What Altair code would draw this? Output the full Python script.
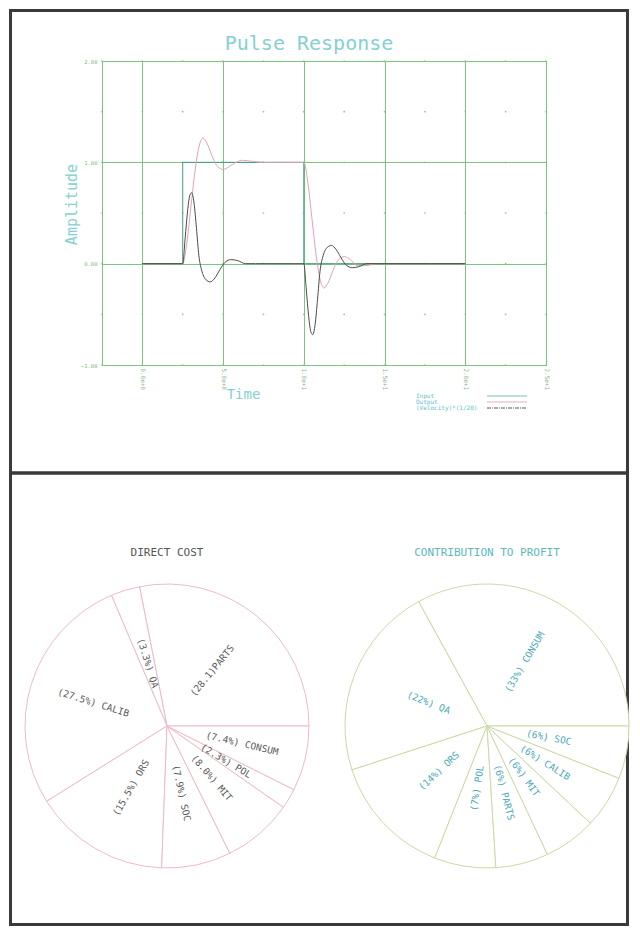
import math
import pandas as pd
import altair as alt

FONT = "DejaVu Sans Mono"
GREEN = "#7ac87a"
CYAN = "#86d0d4"
FRAME = "#3a3a3a"

# ---------------- Pulse response data ----------------
chart_title = "Pulse Response"
x_ticks = [0, 5, 10, 15, 20, 25]
y_ticks = [-1, 0, 1, 2]
x_half = [-2.5, 2.5, 7.5, 12.5, 17.5, 22.5]
y_half = [-1, -0.5, 0, 0.5, 1, 1.5, 2]

input_t = [0, 2.5, 2.5, 10, 10, 20]
input_v = [0, 0, 1, 1, 0, 0]

output_t = [0, 2.5, 2.75, 3.0, 3.25, 3.5, 3.75, 4.0, 4.3, 4.6, 5.0, 5.4, 5.8, 6.2, 6.8, 7.5,
            10.0, 10.25, 10.5, 10.75, 11.0, 11.25, 11.5, 11.8, 12.1, 12.5, 12.9, 13.3, 13.8, 14.5, 20]
output_v = [0, 0, 0.2, 0.55, 0.9, 1.15, 1.24, 1.19, 1.07, 0.97, 0.93, 0.96, 1.0, 1.02, 1.01, 1.0,
            1.0, 0.8, 0.45, 0.1, -0.15, -0.24, -0.19, -0.07, 0.03, 0.07, 0.04, -0.02, -0.02, 0.0, 0]

vel_t = [0, 2.5, 2.65, 2.8, 2.95, 3.05, 3.2, 3.35, 3.5, 3.7, 3.95, 4.2, 4.5, 4.8, 5.1, 5.5, 5.9, 6.4, 7.0,
         10.0, 10.15, 10.3, 10.45, 10.55, 10.7, 10.85, 11.0, 11.2, 11.45, 11.7, 12.0, 12.3, 12.6, 13.0, 13.4, 13.9, 20]
vel_v = [0, 0, 0.25, 0.52, 0.68, 0.70, 0.6, 0.35, 0.08, -0.08, -0.16, -0.18, -0.14, -0.06, 0.01, 0.04, 0.03, 0.0, 0.0,
         0.0, -0.25, -0.52, -0.68, -0.70, -0.6, -0.35, -0.08, 0.08, 0.16, 0.18, 0.14, 0.06, -0.01, -0.04, -0.03, 0.0, 0]

legend_names = ["Input", "Output", "(Velocity)*(1/20)"]

# ---------------- Pie data ----------------
left_names = ["PARTS", "QA", "CALIB", "ORS", "SOC", "MIT", "POL", "CONSUM"]
left_values = [28.1, 3.3, 27.5, 15.5, 7.9, 8.0, 2.3, 7.4]
left_labels = ["(28.1)PARTS", "(3.3%) QA", "(27.5%) CALIB", "(15.5%) ORS",
               "(7.9%) SOC", "(8.0%) MIT", "(2.3%) POL", "(7.4%) CONSUM"]

right_names = ["CONSUM", "QA", "ORS", "POL", "PARTS", "MIT", "CALIB", "SOC"]
right_values = [33, 22, 14, 7, 6, 6, 6, 6]
right_labels = ["(33%) CONSUM", "(22%) QA", "(14%) ORS", "(7%) POL",
                "(6%) PARTS", "(6%) MIT", "(6%) CALIB", "(6%) SOC"]

# ---------------- Top chart ----------------
xs = alt.Scale(domain=[-2.5, 25], nice=False, zero=False)
ys = alt.Scale(domain=[-1, 2], nice=False, zero=False)

x_axis = alt.Axis(values=x_ticks, format=".1e", grid=True, gridColor=GREEN, gridWidth=1,
                  ticks=False, domain=False, labelAngle=90, labelAlign="left",
                  labelBaseline="middle", labelPadding=3, labelFontSize=6, labelFont=FONT,
                  labelColor="#8ab48a", title="Time", titleFont=FONT, titleFontSize=14,
                  titleFontWeight="normal", titleColor=CYAN, titleX=141, titleY=29,
                  titleAlign="center", titleBaseline="middle")
y_axis = alt.Axis(values=y_ticks, format=".2f", grid=True, gridColor=GREEN, gridWidth=1,
                  ticks=False, domain=False, labelPadding=5, labelFontSize=5.5, labelFont=FONT,
                  labelColor="#8ab48a", title="Amplitude", titleFont=FONT, titleFontSize=15,
                  titleFontWeight="normal", titleColor=CYAN, titleX=-31, titleY=143,
                  titleAngle=270, titleAlign="center", titleBaseline="middle")


def enc(chart):
    return chart.encode(x=alt.X("t:Q", scale=xs, axis=x_axis),
                        y=alt.Y("v:Q", scale=ys, axis=y_axis))


dots_df = pd.DataFrame([(x, y) for x in x_half + x_ticks for y in y_half], columns=["t", "v"])
dots = enc(alt.Chart(dots_df).mark_circle(size=3, color=GREEN, opacity=0.9))

in_df = pd.DataFrame({"t": input_t, "v": input_v, "i": range(len(input_t))})
out_df = pd.DataFrame({"t": output_t, "v": output_v, "i": range(len(output_t))})
vel_df = pd.DataFrame({"t": vel_t, "v": vel_v, "i": range(len(vel_t))})

line_in = enc(alt.Chart(in_df).mark_line(color="#3f9a8c", strokeWidth=1)).encode(order="i:Q")
line_out = enc(alt.Chart(out_df).mark_line(color="#e3a2b4", strokeWidth=1,
                                           interpolate="monotone")).encode(order="i:Q")
line_vel = enc(alt.Chart(vel_df).mark_line(color="#4a4a4a", strokeWidth=1,
                                           interpolate="monotone")).encode(order="i:Q")

one = pd.DataFrame({"k": [0]})
title_text = alt.Chart(one).mark_text(align="center", baseline="middle", fontSize=20,
                                      font=FONT, color=CYAN).encode(
    x=alt.value(207), y=alt.value(-17), text=alt.value(chart_title))
leg_text = alt.Chart(one).mark_text(align="left", baseline="top", fontSize=6, lineHeight=6,
                                    font=FONT, color="#5cc0cc").encode(
    x=alt.value(314), y=alt.value(332), text=alt.value(legend_names))
leg_in = alt.Chart(one).mark_rule(color="#7fbdb3", strokeWidth=1).encode(
    x=alt.value(385), x2=alt.value(425), y=alt.value(335))
leg_out = alt.Chart(one).mark_rule(color="#d9b3bd", strokeWidth=1).encode(
    x=alt.value(385), x2=alt.value(425), y=alt.value(341))
leg_vel = alt.Chart(one).mark_rule(color="#555555", strokeWidth=1, strokeDash=[4, 1, 1, 1]).encode(
    x=alt.value(385), x2=alt.value(425), y=alt.value(347))

frame_top = alt.Chart(one).mark_rect(fillOpacity=0, stroke=FRAME, strokeWidth=3).encode(
    x=alt.value(-91.5), x2=alt.value(525.5), y=alt.value(-50.5), y2=alt.value(412))
frame_bot = alt.Chart(one).mark_rect(fillOpacity=0, stroke=FRAME, strokeWidth=3).encode(
    x=alt.value(-91.5), x2=alt.value(525.5), y=alt.value(412), y2=alt.value(863.5))

top = alt.layer(dots, line_in, line_out, line_vel, title_text, leg_text, leg_in, leg_out,
                leg_vel, frame_top, frame_bot).properties(
    width=444, height=304,
    view=alt.ViewBackground(stroke=GREEN, strokeWidth=1),
)

# ---------------- Pies ----------------
theta_scale = alt.Scale(range=[math.pi / 2, math.pi / 2 - 2 * math.pi])


def pie(names, values, labels, line_color, text_color, title, title_color):
    df = pd.DataFrame({"idx": list(range(len(names))), "name": names,
                       "value": values, "label": labels})
    base = alt.Chart(df)
    arcs = base.mark_arc(radius=142, fill="white", stroke=line_color, strokeWidth=1).encode(
        theta=alt.Theta("value:Q", stack=True, scale=theta_scale),
        order=alt.Order("idx:Q"),
    )
    lab = base.transform_window(
        cum="sum(value)", sort=[alt.SortField("idx", order="ascending")], frame=[None, 0]
    ).transform_joinaggregate(total="sum(value)").transform_calculate(
        mid="datum.cum - datum.value / 2",
    ).transform_calculate(
        a="360 * datum.mid / datum.total",
    ).transform_calculate(
        side="cos(datum.a * PI / 180) >= 0 ? 1 : 0",
        ang="cos(datum.a * PI / 180) >= 0 ? (360 - datum.a) % 360 : (540 - datum.a) % 360",
    )
    common = dict(radius=40, baseline="middle", font=FONT, fontSize=9.5, color=text_color)
    right = lab.transform_filter("datum.side == 1").mark_text(align="left", **common).encode(
        theta=alt.Theta("mid:Q", stack=False, scale=theta_scale),
        angle=alt.Angle("ang:Q", scale=None),
        text="label:N",
    )
    left = lab.transform_filter("datum.side == 0").mark_text(align="right", **common).encode(
        theta=alt.Theta("mid:Q", stack=False, scale=theta_scale),
        angle=alt.Angle("ang:Q", scale=None),
        text="label:N",
    )
    return alt.layer(arcs, right, left).properties(
        width=130, height=284,
        title=alt.TitleParams(title, font=FONT, fontSize=11, fontWeight="normal",
                              color=title_color, anchor="middle", offset=24),
    )


pie_left = pie(left_names, left_values, left_labels, "#efbac7", "#5a5a5a",
               "DIRECT COST", "#555555")
pie_right = pie(right_names, right_values, right_labels, "#cbd9a6", "#4aa8b8",
                "CONTRIBUTION TO PROFIT", "#5ab8be")

bottom = alt.hconcat(pie_left, pie_right, spacing=190, bounds="flush")

chart = alt.vconcat(top, bottom, spacing=219, bounds="flush", padding=0,
                    background="white").configure_view(stroke="transparent")

chart.save("out.html", embed_options={"renderer": "svg", "actions": False})
